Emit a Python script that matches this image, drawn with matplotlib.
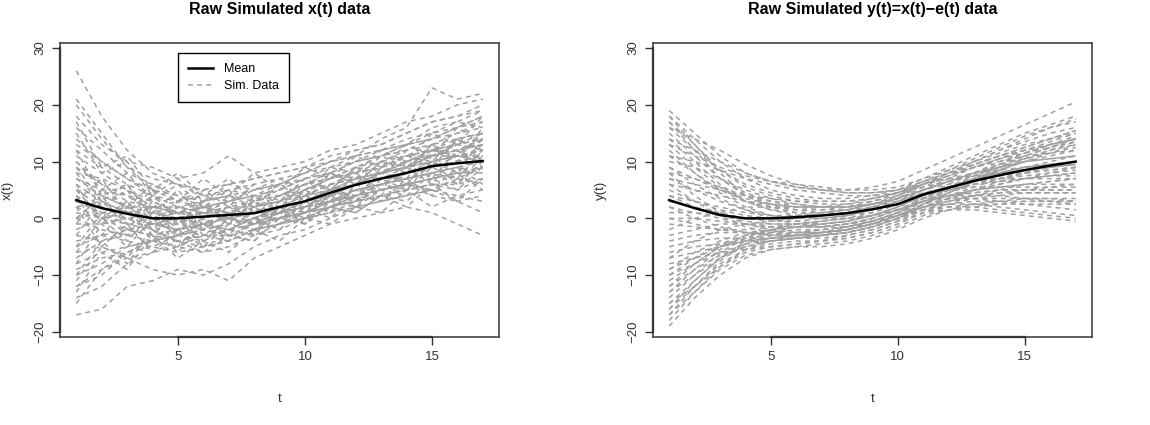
import matplotlib
matplotlib.use('Agg')
import matplotlib.pyplot as plt
from matplotlib.lines import Line2D

plt.rcParams['font.family'] = ['Liberation Sans', 'DejaVu Sans']

t = list(range(1, 18))

# mean curves
x_mean = [3.2, 1.8, 0.8, 0.0, 0.0, 0.3, 0.6, 0.9, 2.0, 3.0, 4.5, 5.9, 7.0, 8.0, 9.2, 9.7, 10.1]
y_mean = [3.2, 1.8, 0.6, 0.0, 0.0, 0.2, 0.5, 0.9, 1.6, 2.5, 4.2, 5.4, 6.6, 7.6, 8.5, 9.3, 10.0]

# simulated x(t) curves (read off roughly)
x_sim = [
    [26, 18, 12, 8, 6, 5, 6, 7, 8, 9, 11, 12, 13, 15, 17, 18, 20],
    [-17, -16, -12, -11, -9, -10, -8, -5, -3, -2, 0, 2, 3, 4, 5, 3, 4],
    [21, 15, 9, 5, 3, 4, 3, 5, 6, 8, 10, 11, 14, 16, 23, 21, 22],
    [-14, -12, -8, -6, -5, -3, -4, -2, 0, 1, 3, 4, 5, 6, 4, 3, 1],
    [12, 9, 6, 4, 2, 1, 3, 2, 4, 5, 6, 8, 9, 11, 12, 14, 15],
    [-8, -6, -5, -4, -3, -2, -1, 0, 1, 3, 5, 6, 8, 9, 10, 11, 12],
    [5, 4, 2, 1, 0, -1, 1, 2, 3, 4, 6, 7, 9, 10, 12, 12, 13],
    [0, -2, -3, -4, -3, -2, -3, -1, 0, 1, 3, 5, 6, 7, 8, 9, 8],
    [9, 6, 3, 2, 2, 3, 4, 3, 5, 7, 8, 10, 11, 13, 14, 16, 17],
    [-4, -3, -2, -3, -2, -1, 0, 1, 2, 2, 4, 6, 7, 7, 9, 10, 11],
    [16, 12, 8, 6, 4, 2, 1, 0, 1, 2, 3, 4, 6, 7, 8, 7, 6],
    [-12, -10, -6, -4, -2, -1, 0, -1, 1, 3, 4, 6, 8, 10, 12, 13, 14],
    [3, 2, 0, -1, -2, 0, 1, 0, 2, 4, 5, 7, 8, 9, 11, 12, 13],
    [7, 5, 4, 3, 1, 2, 0, -1, 0, 1, 2, 4, 5, 6, 7, 8, 9],
    [-2, 0, 1, 2, 1, 3, 4, 5, 6, 8, 9, 11, 12, 14, 15, 16, 18],
    [18, 13, 10, 9, 7, 8, 11, 8, 9, 10, 12, 13, 15, 17, 18, 20, 21],
    [-6, -5, -7, -9, -10, -9, -11, -7, -5, -3, -1, 0, 1, 2, 1, -1, -3],
    [2, 3, 1, 0, -1, -1, -2, 0, 1, 2, 4, 5, 6, 8, 10, 11, 10],
    [11, 8, 5, 3, 1, 0, 2, 3, 4, 4, 6, 7, 7, 8, 9, 10, 11],
    [-10, -8, -5, -4, -3, -4, -2, -1, 0, 2, 3, 5, 6, 7, 8, 9, 10],
    [6, 3, 1, -1, -2, -3, -2, -1, 1, 2, 4, 6, 7, 9, 11, 12, 14],
    [-1, -1, 0, -2, -1, 1, 2, 2, 3, 5, 7, 8, 10, 11, 13, 14, 15],
    [14, 10, 7, 4, 3, 2, 3, 4, 4, 6, 7, 9, 10, 12, 13, 15, 16],
    [4, 1, -1, -2, -4, -3, -2, -3, -1, 0, 2, 3, 4, 5, 6, 6, 7],
    [-15, -9, -6, -5, -6, -5, -4, -2, -1, 1, 2, 3, 5, 6, 7, 8, 9],
    [8, 7, 5, 2, 1, 1, 0, 2, 3, 5, 7, 9, 11, 12, 14, 15, 17],
    [1, 0, -2, -3, -4, -5, -4, -2, -1, 0, 1, 3, 4, 5, 6, 5, 7],
    [10, 6, 4, 1, 0, 2, 1, 1, 2, 3, 5, 6, 8, 10, 11, 13, 12],
    [-7, -4, -3, -1, 0, 1, 1, 3, 4, 6, 7, 8, 9, 11, 12, 13, 15],
    [3, 1, 2, 0, 1, 2, 3, 4, 5, 7, 8, 10, 12, 13, 15, 17, 19],
    [20, 14, 9, 7, 6, 4, 5, 4, 6, 7, 9, 10, 11, 13, 14, 16, 18],
    [-3, -4, -2, -1, -1, -2, -1, 0, 0, 1, 2, 4, 5, 6, 7, 8, 8],
    [5, 2, 1, 0, 0, 1, 2, 1, 3, 4, 6, 7, 8, 10, 11, 11, 12],
    [-9, -7, -6, -4, -5, -6, -5, -3, -2, 0, 1, 2, 3, 4, 5, 7, 9],
    [13, 10, 7, 5, 4, 3, 5, 6, 7, 8, 10, 11, 12, 13, 16, 17, 16],
    [0, 1, 0, 1, 2, 1, 0, 1, 2, 3, 5, 7, 8, 9, 10, 11, 10],
    [-5, -3, -4, -5, -3, -1, -2, 0, 2, 4, 5, 6, 8, 9, 11, 13, 14],
    [7, 4, 2, 2, 3, 5, 6, 7, 8, 9, 10, 12, 13, 15, 17, 18, 19],
    [2, 0, -1, -1, 0, -1, 0, 1, 1, 2, 3, 4, 5, 6, 5, 4, 5],
    [-12, -9, -7, -6, -4, -3, -3, -2, -1, 1, 3, 4, 6, 8, 9, 11, 11],
    [0, 4, -2, 3, -3, 2, -1, 4, 1, 5, 3, 8, 5, 10, 7, 12, 9],
    [8, 2, 5, -1, 3, -2, 1, -3, 2, 0, 4, 2, 7, 5, 10, 6, 11],
    [-6, 0, -4, 1, -5, 0, -3, 2, -1, 3, 1, 6, 4, 9, 6, 12, 8],
    [4, -3, 2, -4, 0, -5, -1, -2, 2, -1, 5, 3, 8, 6, 11, 8, 14],
    [10, 5, 8, 3, 6, 2, 5, 1, 4, 6, 8, 7, 11, 9, 13, 11, 15],
    [-10, -4, -8, -2, -6, -1, -4, 0, -2, 2, 0, 4, 3, 6, 5, 9, 6],
    [15, 8, 10, 4, 7, 3, 6, 5, 7, 5, 9, 8, 12, 10, 15, 13, 18],
    [-3, 3, -1, 4, 0, 5, 2, 6, 3, 7, 5, 9, 7, 12, 9, 14, 10],
    [6, -1, 3, -3, 1, -4, 0, -2, 1, 0, 2, 1, 4, 2, 6, 3, 7],
    [-8, -1, -5, 0, -3, -2, 1, -1, 2, 1, 4, 3, 6, 5, 9, 7, 12],
    [12, 4, 6, 0, 2, -1, 2, 0, 3, 2, 5, 4, 8, 7, 12, 10, 13],
    [2, -5, -1, -6, -2, -5, -3, -4, 0, -1, 2, 1, 4, 3, 7, 5, 9],
    [-13, -6, -9, -3, -7, -4, -6, -2, -4, 0, -1, 2, 1, 5, 2, 4, 3],
    [9, 3, 6, 1, 5, 0, 4, 2, 6, 3, 8, 6, 10, 8, 13, 10, 16],
    [-1, 5, 2, 6, 3, 7, 4, 8, 5, 9, 7, 11, 9, 13, 11, 16, 13],
    [5, 0, 3, -2, 2, -3, 0, -1, 3, 1, 6, 3, 9, 6, 10, 8, 12],
    [17, 9, 11, 5, 8, 4, 7, 3, 6, 4, 8, 6, 10, 9, 12, 11, 14],
    [-5, 1, -3, 2, -2, 3, -1, 3, 0, 4, 2, 5, 3, 7, 4, 8, 5],
    [3, 7, 1, 5, -1, 3, 0, 4, 2, 6, 5, 9, 8, 11, 10, 14, 12],
    [-11, -5, -7, -2, -4, -6, -3, -4, 1, -1, 3, 2, 5, 4, 8, 6, 10],
]

# simulated y(t) curves (smooth)
y_sim = [
    [19, 15, 11, 8, 6.5, 5.5, 5, 5, 5.5, 6.5, 8.5, 10.5, 12.5, 14.5, 16.5, 18.5, 20.5],
    [-19, -14, -10, -7, -5.5, -5, -4.5, -4, -3, -1.5, 0.5, 1.5, 2, 2.5, 3, 3, 3],
    [17, 13, 8, 4, 2, 1, 0.5, 1, 2, 3.5, 6, 8, 10, 12, 13.5, 15, 16],
    [-16, -11, -7, -4.5, -3.5, -3, -2.5, -2, -1, 1, 3, 4, 4.5, 5, 5, 5, 5],
    [14, 10, 6, 3, 1.5, 1, 1, 1.5, 2.5, 4, 6, 8, 9.5, 11, 12, 13, 14],
    [-13, -9, -5.5, -3, -2, -1.5, -1, -0.5, 0.5, 2, 4, 5.5, 7, 8, 9, 9.5, 10],
    [11, 8, 5, 3, 2, 1.5, 1.5, 2, 3, 4.5, 6.5, 8, 9, 10, 11, 11.5, 12],
    [-10, -7, -4.5, -3, -2.5, -2, -2, -1.5, -0.5, 1, 3, 4, 5, 5.5, 6, 6.5, 7],
    [8, 4, 1, -1, -2, -2.5, -2.5, -2, -1, 0.5, 3, 5, 7, 8.5, 10, 11, 12],
    [-7, -4, -2, -1, -0.5, 0, 0.5, 1, 2, 3.5, 5, 6.5, 8, 9, 10, 10.5, 11],
    [5, 3, 1.5, 0.5, 0, 0, 0.5, 1, 2, 3, 4.5, 5.5, 6.5, 7, 7.5, 8, 8.5],
    [-4, -3, -2.5, -2.5, -2.5, -2.5, -2, -1.5, -0.5, 1, 3, 4.5, 6, 7.5, 9, 10, 11],
    [2, 0, -1.5, -2.5, -3, -3, -2.5, -2, -1, 0.5, 2.5, 3.5, 4, 4.5, 4.5, 4.5, 4.5],
    [13, 11, 9, 7.5, 6.5, 6, 5.5, 5, 5, 5.5, 7, 8.5, 10, 11.5, 13, 14, 15],
    [-17, -13, -9, -6.5, -5.5, -5, -5, -4.5, -3.5, -2, 0, 1.5, 2.5, 3, 3.5, 3.5, 3.5],
    [16, 12, 8.5, 6, 4.5, 3.5, 3, 3, 3.5, 4.5, 6, 7, 8, 8.5, 9, 9.5, 10],
    [-12, -9, -6.5, -5, -4, -3.5, -3, -2.5, -1.5, 0, 2, 3, 3.5, 3.5, 3.5, 3, 2.5],
    [9, 7, 5, 3.5, 2.5, 2, 2, 2.5, 3.5, 4.5, 6, 7.5, 9, 10.5, 12, 13, 14],
    [-9, -6, -4, -2.5, -2, -1.5, -1.5, -1, -0.5, 0.5, 2, 2.5, 2.5, 2, 1.5, 1, 0.5],
    [6, 5, 4, 3, 2.5, 2, 2, 2, 2.5, 3.5, 5, 6.5, 8, 9.5, 11, 12.5, 14],
    [-1, -1.5, -2, -2.5, -3, -3, -3, -2.5, -1.5, 0, 2.5, 4, 5.5, 7, 8, 9, 9.5],
    [3, 2, 1, 0, -0.5, -0.5, 0, 0.5, 1, 2.5, 4, 5, 6, 6.5, 7, 7.5, 7.5],
    [15, 11, 7, 4.5, 3, 2, 1.5, 1.5, 2, 3, 5, 6.5, 8, 9, 10, 10.5, 11],
    [-15, -12, -8, -5.5, -4, -3.5, -3.5, -3, -2, -0.5, 1.5, 3, 4, 5, 6, 6.5, 7],
    [10, 9, 7, 5, 3.5, 2.5, 2, 2, 2.5, 4, 6, 8, 10, 12, 14, 16, 17.5],
    [-3, -2, -1, -1, -1, -1, -0.5, 0, 1, 2.5, 4, 5.5, 7, 8, 9, 9.5, 10],
    [7, 5, 3, 1.5, 0.5, 0, 0, 0.5, 1.5, 3, 4.5, 5, 5.5, 5.5, 5.5, 5.5, 5.5],
    [-6, -5, -4.5, -4, -4, -3.5, -3, -2.5, -1.5, 0, 2, 3.5, 5, 6, 7, 8, 9],
    [18, 14, 10, 7, 5, 4, 3.5, 3.5, 4, 5, 7, 9, 11, 13, 15, 16.5, 18],
    [-18, -13, -8.5, -5.5, -4.5, -4, -4, -3.5, -2.5, -1, 1, 1.5, 1.5, 1, 0.5, 0, -0.5],
    [1, 1, 0.5, 0, 0, 0.5, 1, 1.5, 2.5, 3.5, 5, 6.5, 8, 9.5, 10.5, 11.5, 12.5],
    [12, 8, 4.5, 2, 0.5, -0.5, -1, -0.5, 0.5, 2, 4, 5.5, 6.5, 7.5, 8, 8.5, 9],
    [-11, -8, -5, -3.5, -3, -2.5, -2.5, -2, -1, 0.5, 2.5, 4.5, 6.5, 8.5, 10, 11.5, 13],
    [4, 3, 2, 1, 0.5, 0.5, 0.5, 1, 1.5, 2.5, 3.5, 4, 4, 4, 3.5, 3.5, 3],
    [-8, -7, -6, -5.5, -5, -4.5, -4, -3, -2, -0.5, 1, 2, 2.5, 2.5, 2.5, 2.5, 2.5],
    [0, -1, -2, -2, -1.5, -1, -0.5, 0.5, 1.5, 3, 5, 7, 9, 10.5, 12, 13.5, 15],
    [16, 14, 12, 9.5, 7.5, 6, 5, 4.5, 4.5, 5, 6, 7, 7.5, 8, 8.5, 9, 9.5],
    [-14, -10, -6, -3.5, -2, -1, -0.5, 0, 0.5, 1.5, 3, 3.5, 3.5, 3, 2.5, 2, 1.5],
    [6, 3, 0.5, -1.5, -2.5, -3, -3, -2.5, -1.5, 0, 2, 3.5, 5, 6, 7, 7.5, 8],
    [-2, 0, 1, 2, 2, 2, 2, 2, 2.5, 3.5, 5.5, 7.5, 9.5, 11, 12.5, 14, 15.5],
    [18, 13, 8.5, 5.5, 4, 3, 2.5, 2.5, 3, 4, 6, 7.5, 9, 10.5, 11.5, 12.5, 13.5],
    [-17, -12, -7.5, -4.5, -3, -2.5, -2, -1.5, -0.5, 1, 3, 5, 7, 9, 11, 12.5, 14],
    [13, 9, 5.5, 3, 1.5, 0.5, 0, 0, 0.5, 1.5, 3, 4, 4.5, 5, 5, 5, 5],
    [-13, -10, -7, -5, -4, -3.5, -3, -2.5, -1.5, 0, 2.5, 4.5, 6.5, 8.5, 10.5, 12, 13.5],
    [9, 6, 3.5, 1.5, 0, -1, -1.5, -1.5, -1, 0, 1.5, 2, 2, 1.5, 1, 0.5, 0],
    [-9, -7, -5, -4, -3.5, -3, -2.5, -1.5, -0.5, 1, 3.5, 5.5, 7.5, 9.5, 11.5, 13, 14.5],
    [7, 6, 5, 4, 3.5, 3, 3, 3, 3.5, 4.5, 6.5, 8.5, 10.5, 12.5, 14.5, 16, 17],
    [-5, -4, -3.5, -3.5, -3.5, -3.5, -3, -2.5, -1.5, 0, 1.5, 2.5, 3, 3, 3, 3, 3],
    [4, 2, 0.5, -0.5, -1, -1, -1, -0.5, 0.5, 2, 4, 5.5, 7, 8, 9, 9.5, 10],
    [-10, -8, -6, -4.5, -4, -3.5, -3, -2, -1, 0.5, 2, 3, 4, 4.5, 5, 5.5, 6],
    [11, 10, 8.5, 7, 6, 5, 4.5, 4, 4, 4.5, 5.5, 6.5, 7.5, 8, 8.5, 9, 9.5],
    [-15, -11, -7, -4, -2.5, -1.5, -1, -0.5, 0.5, 2, 4, 6, 8, 10, 11.5, 13, 14],
    [2, 1, 0, -1, -1.5, -1.5, -1.5, -1, 0, 1.5, 3.5, 5, 6, 7, 8, 8.5, 9],
    [14, 12, 10, 8, 6.5, 5.5, 5, 4.5, 4.5, 5, 6.5, 8, 9.5, 11, 12.5, 14, 15.5],
    [-12, -8, -5, -3, -2, -1.5, -1.5, -1, 0, 1.5, 3, 4, 5, 5.5, 6, 6, 6],
    [0, 0, -0.5, -1, -1.5, -1.5, -1.5, -1, 0, 1.5, 3.5, 5.5, 7.5, 9, 10.5, 12, 13],
    [8, 7, 5.5, 4, 3, 2.5, 2, 2, 2.5, 3.5, 5, 6, 6.5, 7, 7, 7, 7],
    [-7, -6, -5, -4, -3.5, -3, -2.5, -2, -1, 0.5, 2, 3.5, 5, 6.5, 8, 9, 10],
    [17, 12, 7, 4, 2.5, 1.5, 1, 1, 1.5, 2.5, 4, 5, 6, 6.5, 7, 7.5, 8],
    [-16, -12, -8.5, -6, -5, -4.5, -4, -3.5, -2.5, -1, 1, 2.5, 3.5, 4, 4.5, 4.5, 4.5],
]

fig = plt.figure(figsize=(11.5, 4.25), dpi=100)
ax1 = fig.add_axes([0.0522, 0.2071, 0.3817, 0.6918])
ax2 = fig.add_axes([0.5678, 0.2071, 0.3817, 0.6918])

gray = '#a0a0a0'

def panel(ax, sims, mean, title, ylab):
    for s in sims:
        ax.plot(t, s, color=gray, lw=1.1, dashes=(3.2, 2.8))
    ax.plot(t, mean, color='black', lw=1.8)
    ax.set_xlim(0.36, 17.64)
    ax.set_ylim(-20.9, 30.9)
    ax.set_xticks([5, 10, 15])
    ax.set_yticks([-20, -10, 0, 10, 20, 30])
    ax.set_yticklabels(['\u221220', '\u221210', '0', '10', '20', '30'],
                       rotation=90, va='center')
    ax.tick_params(labelsize=9.5, length=6, width=1, color='#333333',
                   labelcolor='#333333', pad=4)
    for sp in ax.spines.values():
        sp.set_linewidth(1.2)
        sp.set_color('#444444')
    # R style axis lines from first to last tick
    ax.plot([5, 15], [0, 0], transform=ax.get_xaxis_transform(),
            color='black', lw=1.6, clip_on=False)
    ax.plot([0, 0], [-20, 30], transform=ax.get_yaxis_transform(),
            color='black', lw=1.6, clip_on=False)
    ax.text(0.5, 1.115, title, transform=ax.transAxes, ha='center',
            va='center', fontsize=11.5, fontweight='bold')
    ax.set_xlabel('t', fontsize=9.5, color='#333333')
    ax.xaxis.set_label_coords(0.5, -0.19)
    ax.set_ylabel(ylab, fontsize=9.5, color='#333333')
    ax.yaxis.set_label_coords(-0.105, 0.5)

panel(ax1, x_sim, x_mean, 'Raw Simulated x(t) data', 'x(t)')
panel(ax2, y_sim, y_mean, 'Raw Simulated y(t)=x(t)\u2212e(t) data', 'y(t)')

handles = [Line2D([], [], color='black', lw=1.8),
           Line2D([], [], color=gray, lw=1.1, dashes=(3.2, 2.8))]
leg = ax1.legend(handles, ['Mean', 'Sim. Data'], loc='upper left',
                 bbox_to_anchor=(0.269, 0.966), fontsize=9, fancybox=False,
                 framealpha=1, edgecolor='black', handlelength=2.0,
                 handletextpad=0.9, borderpad=0.8, labelspacing=0.4,
                 borderaxespad=0)
leg.get_frame().set_linewidth(1.0)

fig.savefig('out.png', dpi=100)
